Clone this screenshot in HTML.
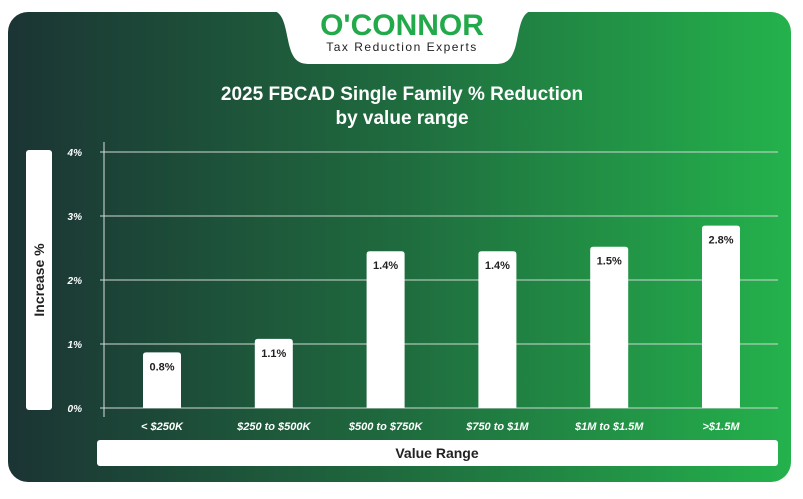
<!DOCTYPE html>
<html><head><meta charset="utf-8"><style>
body{margin:0;width:803px;height:494px;background:#fff;overflow:hidden;font-family:"Liberation Sans",sans-serif}
</style></head><body>
<svg width="803" height="494">
<defs><linearGradient id="g" x1="0" x2="1" y1="0" y2="0"><stop offset="0" stop-color="#1b3434"/><stop offset="0.5" stop-color="#1f6b3e"/><stop offset="1" stop-color="#24b24c"/></linearGradient></defs>
<rect x="8" y="12" width="783" height="470" rx="20" fill="url(#g)"/>
<path d="M268 10 C282 10 284 20 288 40 C292 60 298 64 310 64 L495 64 C507 64 513 60 517 40 C521 20 523 10 537 10 L537 0 L268 0 Z" fill="#fff"/>
<text x="402" y="35" text-anchor="middle" font-size="30" font-weight="bold" fill="#22a94a">O'CONNOR</text>
<text x="402" y="51" text-anchor="middle" font-size="12" letter-spacing="1.5" fill="#222">Tax Reduction Experts</text>
<text x="402" y="100" text-anchor="middle" font-size="19" font-weight="bold" fill="#fff">2025 FBCAD Single Family % Reduction</text>
<text x="402" y="124" text-anchor="middle" font-size="19" font-weight="bold" fill="#fff">by value range</text>
<rect x="26" y="150" width="26" height="260" rx="3" fill="#fff"/>
<text transform="translate(44,280) rotate(-90)" text-anchor="middle" font-size="14" font-weight="bold" fill="#222">Increase %</text>
<rect x="97" y="440" width="681" height="26" rx="3" fill="#fff"/>
<text x="437" y="458" text-anchor="middle" font-size="14" font-weight="bold" fill="#222">Value Range</text>
<line x1="104" y1="142" x2="104" y2="417" stroke="#ddd" stroke-width="1"/>
<g id="grid"></g><g id="bars"></g>
</svg>
<script>
const categories=["< $250K","$250 to $500K","$500 to $750K","$750 to $1M","$1M to $1.5M",">$1.5M"];
const barValues=[0.87,1.08,2.45,2.45,2.52,2.85];
const valueLabels=["0.8%","1.1%","1.4%","1.4%","1.5%","2.8%"];
const yTicks=[0,1,2,3,4];
const ns="http://www.w3.org/2000/svg";
const y=v=>408-v*64;
const x=i=>162+i*111.8;
const grid=document.getElementById('grid'),bars=document.getElementById('bars');
function mk(t,a,p){const e=document.createElementNS(ns,t);for(const k in a)e.setAttribute(k,a[k]);p.appendChild(e);return e;}
yTicks.forEach(t=>{
 const l=mk('line',{x1:100,x2:778,y1:y(t),y2:y(t),stroke:'#cfd8d2','stroke-width':1},grid);
 
 
 const tx=mk('text',{x:82,y:y(t)+4,'text-anchor':'end','font-size':10,'font-weight':'bold','font-style':'italic',fill:'#fff'},grid);
 tx.textContent=t+'%';
 
 
});
categories.forEach((c,i)=>{
 const h=408-y(barValues[i]);
 const b=mk('path',{d:`M${x(i)-19} 408 V${y(barValues[i])+3} Q${x(i)-19} ${y(barValues[i])} ${x(i)-16} ${y(barValues[i])} H${x(i)+16} Q${x(i)+19} ${y(barValues[i])} ${x(i)+19} ${y(barValues[i])+3} V408 Z`,fill:'#fff'},bars);
 
 
 const v=mk('text',{x:x(i),y:y(barValues[i])+18,'text-anchor':'middle','font-size':11,'font-weight':'bold',fill:'#222'},bars);
 v.textContent=valueLabels[i];
 
 
 const cl=mk('text',{x:x(i),y:430,'text-anchor':'middle','font-size':11,'font-weight':'bold','font-style':'italic',fill:'#fff'},bars);
 cl.textContent=c;
 
 
});
</script>
</body></html>
